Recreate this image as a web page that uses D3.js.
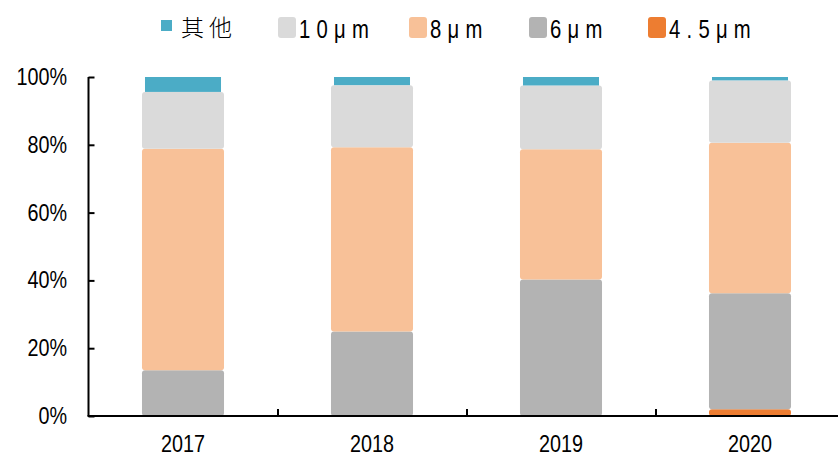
<!DOCTYPE html>
<html>
<head>
<meta charset="utf-8">
<script src="https://cdn.jsdelivr.net/npm/d3@7/dist/d3.min.js"></script>
<style>
  html, body { margin: 0; padding: 0; background: #fff; }
  svg { display: block; }
  .num { font-family: "Liberation Sans", Arial, sans-serif; }
  .cjk { font-family: "Noto Sans CJK SC", sans-serif; font-weight: 300; }
</style>
</head>
<body>
<svg id="chart" width="838" height="456"></svg>
<script>
// Share of each thickness (%), per year
const years = ["2017", "2018", "2019", "2020"];
const um45  = [0, 0, 0, 2.0];
const um6   = [13.5, 24.9, 40.3, 34.2];
const um8   = [65.3, 54.4, 38.4, 44.4];
const um10  = [16.8, 18.3, 18.8, 18.4];
const other = [4.4, 2.4, 2.5, 1.0];
const yTicks = [0, 20, 40, 60, 80, 100];

const seriesNames  = ["4.5μm", "6μm", "8μm", "10μm", "其他"];
const seriesColors = ["#ED7D31", "#B3B3B3", "#F8C198", "#DADADA", "#4BACC6"];
const legendOrder  = ["其他", "10μm", "8μm", "6μm", "4.5μm"];

const rows = years.map((yr, i) => ({
  year: yr,
  "4.5μm": um45[i], "6μm": um6[i], "8μm": um8[i], "10μm": um10[i], "其他": other[i]
}));

const svg = d3.select("#chart");
const plotLeft = 88.5, plotBottom = 416, plotTop = 77;
const narrow = 0.86; // horizontal squeeze for the condensed label face

const x = d3.scaleBand().domain(years)
  .range([plotLeft, plotLeft + 4 * 189])
  .paddingInner(0.566).paddingOuter(0.283);
const y = d3.scaleLinear().domain([0, 100]).range([plotBottom, plotTop]);
const color = d3.scaleOrdinal().domain(seriesNames).range(seriesColors);

const stacked = d3.stack().keys(seriesNames)(rows);

// stacked segments
const layers = svg.append("g").selectAll("g").data(stacked).join("g")
  .attr("fill", d => color(d.key));

layers.selectAll("rect")
  .data(d => d.map(p => ({ key: d.key, p })).filter(s => s.p[1] - s.p[0] > 0))
  .join("rect")
  .attr("x", d => x(d.p.data.year) + (d.key === "其他" ? 3 : 0))
  .attr("width", d => x.bandwidth() - (d.key === "其他" ? 6 : 0))
  .attr("y", d => y(d.p[1]))
  .attr("height", d => y(d.p[0]) - y(d.p[1]))
  .attr("rx", d => d.key === "其他" ? 0 : 3);

// y axis
const yAxis = d3.axisLeft(y).tickValues(yTicks).tickSize(-6).tickFormat("");
const gy = svg.append("g").attr("transform", `translate(${plotLeft},0)`).call(yAxis);
gy.select(".domain").attr("stroke", "#000").attr("stroke-width", 2).attr("d", `M0,${plotTop}V${plotBottom}`);
gy.selectAll(".tick line").attr("stroke", "#000").attr("stroke-width", 2);
svg.append("g").selectAll("g").data(yTicks).join("g")
  .attr("transform", d => `translate(67,${y(d) + 8}) scale(${narrow},1)`)
  .append("text").attr("class", "num")
  .attr("text-anchor", "end").attr("font-size", 23).attr("fill", "#000")
  .text(d => d + "%");

// x axis with ticks between categories
const gx = svg.append("g").attr("transform", `translate(0,${plotBottom})`);
gx.append("line").attr("x1", plotLeft - 1).attr("x2", 838).attr("y1", 0).attr("y2", 0)
  .attr("stroke", "#000").attr("stroke-width", 2);
gx.selectAll("line.sep").data(years.slice(1)).join("line").attr("class", "sep")
  .attr("x1", d => x(d) - x.step() * x.paddingInner() / 2 + 0.5)
  .attr("x2", d => x(d) - x.step() * x.paddingInner() / 2 + 0.5)
  .attr("y1", 0).attr("y2", -7).attr("stroke", "#000").attr("stroke-width", 2);
gx.selectAll("g.lab").data(years).join("g").attr("class", "lab")
  .attr("transform", d => `translate(${x(d) + x.bandwidth() / 2},36) scale(${narrow},1)`)
  .append("text").attr("class", "num")
  .attr("text-anchor", "middle").attr("font-size", 23).attr("fill", "#000")
  .text(d => d);

// legend
const legX = [161, 278, 409, 529, 648];
const leg = svg.append("g").selectAll("g").data(legendOrder).join("g")
  .attr("transform", (d, i) => `translate(${legX[i]},0)`);
leg.append("rect")
  .attr("x", 0)
  .attr("y", d => d === "其他" ? 20 : 17)
  .attr("width", d => d === "其他" ? 11 : 18)
  .attr("height", d => d === "其他" ? 11 : 21)
  .attr("rx", d => d === "其他" ? 0 : 3)
  .attr("fill", d => color(d));
leg.filter(d => d === "其他").append("text").attr("class", "cjk")
  .attr("x", 20).attr("y", 36)
  .attr("font-size", 23).attr("fill", "#000").attr("letter-spacing", 5)
  .text(d => d);
leg.filter(d => d !== "其他").append("g")
  .attr("transform", `translate(21,38) scale(0.78,1)`)
  .append("text").attr("class", "num")
  .attr("font-size", 26).attr("fill", "#000").attr("letter-spacing", 8)
  .text(d => d);
</script>
</body>
</html>
